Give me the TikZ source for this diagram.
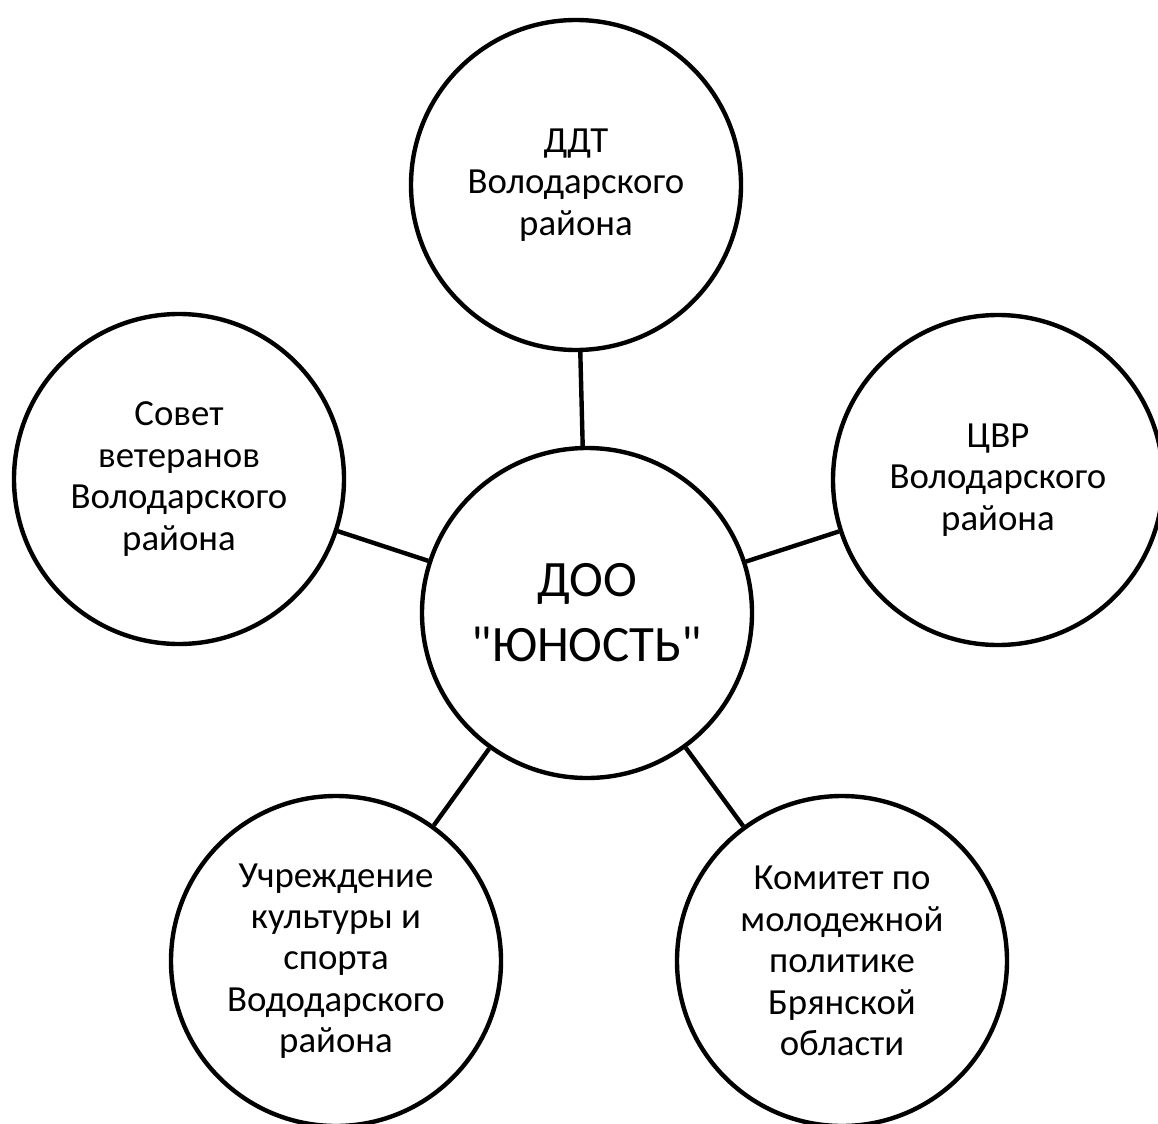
\documentclass[tikz,border=0pt]{standalone}
\usepackage{fontspec}
\setmainfont{Carlito}
\newfontfamily\hubfont{Carlito}
\tikzset{
    org/.style={draw,circle,line width=2.2pt,minimum size=165pt,inner sep=0pt,align=center,
        font=\fontsize{18.4pt}{20.7pt}\selectfont},
    hub/.style={org,font=\hubfont\fontsize{25.5pt}{32.5pt}\selectfont},
    link/.style={line width=2.2pt}
}
\begin{document}
\begin{tikzpicture}[x=0.5pt,y=-0.5pt]
                \useasboundingbox (0,0) rectangle (1158,1124);

                \node[hub] (doo) at (587,613) {ДОО\\"ЮНОСТЬ"};

                \node[org] (ddt) at (576,185) {ДДТ\\Володарского\\района};
                \node[org] (sovet) at (179,479) {Совет\\ветеранов\\Володарского\\района};
                \node[org] (cvr) at (998,480) {ЦВР\\Володарского\\района};
                \node[org] (kultura) at (336,961) {Учреждение\\культуры и\\спорта\\Вододарского\\района};
                \node[org] (komitet) at (842,961) {Комитет по\\молодежной\\политике\\Брянской\\области};

                \draw[link] (doo) -- (ddt);
                \draw[link] (doo) -- (sovet);
                \draw[link] (doo) -- (cvr);
                \draw[link] (doo) -- (kultura);
                \draw[link] (doo) -- (komitet);
\end{tikzpicture}
\end{document}
